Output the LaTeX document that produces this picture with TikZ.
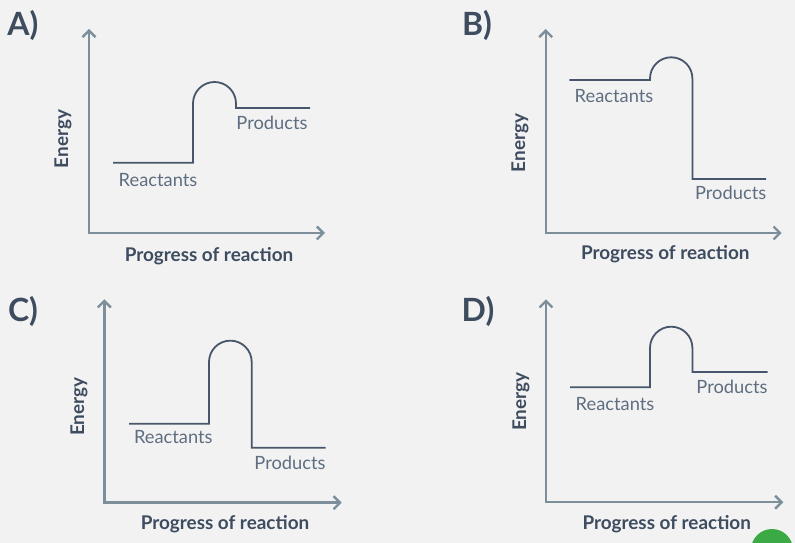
\documentclass[tikz,border=0pt]{standalone}
\usepackage{fontspec}
\setmainfont{Lato}
\usepackage{xcolor}
\usetikzlibrary{arrows.meta}
\definecolor{bgpaper}{HTML}{F2F2F2}
\definecolor{axisgray}{HTML}{7D8F9B}
\definecolor{curveslate}{HTML}{47566A}
\definecolor{textslate}{HTML}{5E6E80}
\definecolor{headslate}{HTML}{3E4C60}
\definecolor{btngreen}{HTML}{3BAA45}

\begin{document}
\begin{tikzpicture}[x=1pt, y=1pt, >={Straight Barb[length=6.5pt,width=13pt,line width=2.4pt]},
  axisline/.style={draw=axisgray, line width=2.4pt, <->},
  curve/.style={draw=curveslate, line width=1.8pt},
  stlabel/.style={font=\fontsize{18.3}{18.3}\selectfont, text=textslate, inner sep=0pt, anchor=base},
  axtitle/.style={font=\fontsize{18.9}{18.9}\selectfont\bfseries, text=headslate, inner sep=0pt},
  paneltag/.style={font=\fontsize{32}{32}\selectfont\bfseries, text=headslate, inner sep=0pt, anchor=base}]
\useasboundingbox (0,0) rectangle (795,543);
\clip (0,0) rectangle (795,543);
\fill[bgpaper] (0,0) rectangle (795,543);

% A
\node[paneltag] (tagA) at (23,507.5) {A)};
\coordinate (ytopA) at (89,514);
\coordinate (xendA) at (325,310);
\draw[axisline] (ytopA) |- (xendA);
\coordinate (rA) at (113,380.3);
\coordinate (pA) at (310,435);
\draw[curve] (rA) -- ++(80,0) -- ++(0,59.2) arc[start angle=180, end angle=0, radius=21.5] |- (pA);
\node[stlabel] (reacA) at (158,356.3) {Reactants};
\node[stlabel] (prodA) at (272,413.7) {Products};
\node[axtitle, rotate=90] (energyA) at (63,404) {Energy};
\node[axtitle, anchor=base] (progA) at (209,281.3) {Progress of reaction};

% B
\node[paneltag] (tagB) at (477,507.5) {B)};
\coordinate (ytopB) at (545.7,514);
\coordinate (xendB) at (781.7,310);
\draw[axisline] (ytopB) |- (xendB);
\coordinate (rB) at (569.3,463);
\coordinate (pB) at (766,364);
\draw[curve] (rB) -- ++(80.7,0) -- ++(0,1.5) arc[start angle=180, end angle=0, radius=21.2] |- (pB);
\node[stlabel] (reacB) at (614,440.3) {Reactants};
\node[stlabel] (prodB) at (730.7,343) {Products};
\node[axtitle, rotate=90] (energyB) at (520,400) {Energy};
\node[axtitle, anchor=base] (progB) at (665.3,283) {Progress of reaction};

% C
\node[paneltag] (tagC) at (23,221.3) {C)};
\coordinate (ytopC) at (104.3,243.7);
\coordinate (xendC) at (341.7,40.3);
\draw[axisline] (ytopC) |- (xendC);
\coordinate (rC) at (129,119.3);
\coordinate (pC) at (325.7,95.3);
\draw[curve] (rC) -- ++(80,0) -- ++(0,61.7) arc[start angle=180, end angle=0, radius=21.35] |- (pC);
\node[stlabel] (reacC) at (173.3,99) {Reactants};
\node[stlabel] (prodC) at (290,73) {Products};
\node[axtitle, rotate=90] (energyC) at (79,136.3) {Energy};
\node[axtitle, anchor=base] (progC) at (225,13) {Progress of reaction};

% D
\node[paneltag] (tagD) at (478,221.3) {D)};
\coordinate (ytopD) at (546,243.7);
\coordinate (xendD) at (783.3,40.7);
\draw[axisline] (ytopD) |- (xendD);
\coordinate (rD) at (570,155.7);
\coordinate (pD) at (767.7,171);
\draw[curve] (rD) -- ++(80,0) -- ++(0,39.4) arc[start angle=180, end angle=0, radius=21.2] |- (pD);
\node[stlabel] (reacD) at (615,132.3) {Reactants};
\node[stlabel] (prodD) at (732,149) {Products};
\node[axtitle, rotate=90] (energyD) at (521,141.3) {Energy};
\node[axtitle, anchor=base] (progD) at (666.7,13) {Progress of reaction};

% button
\fill[btngreen] (772,-7) circle[radius=21];
\end{tikzpicture}
\end{document}
